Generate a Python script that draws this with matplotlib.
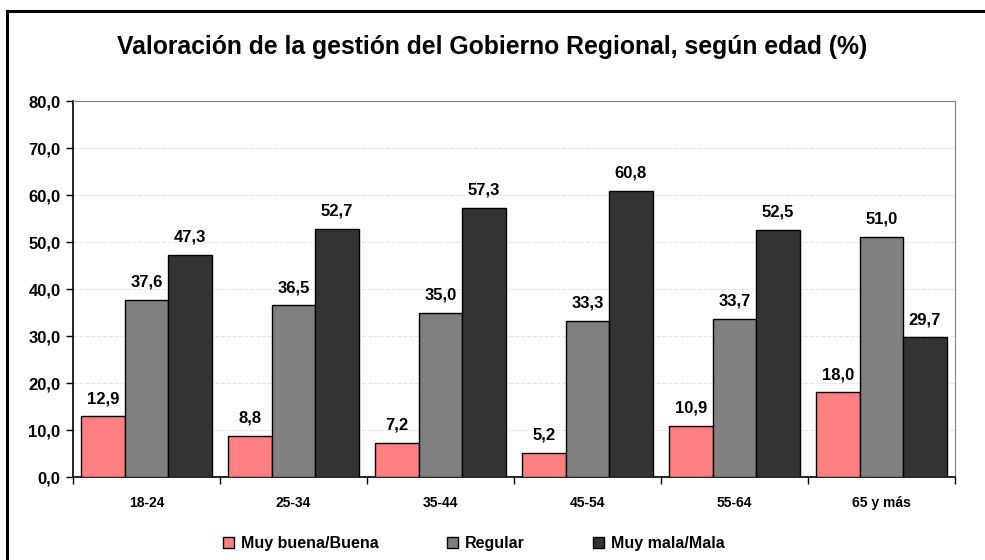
import numpy as np
import matplotlib
import matplotlib.pyplot as plt
from matplotlib.patches import Rectangle

matplotlib.rc('font', family='Liberation Sans', weight='bold')

edades = ["18-24", "25-34", "35-44", "45-54", "55-64", "65 y más"]
muy_buena = [12.9, 8.8, 7.2, 5.2, 10.9, 18.0]
regular = [37.6, 36.5, 35.0, 33.3, 33.7, 51.0]
muy_mala = [47.3, 52.7, 57.3, 60.8, 52.5, 29.7]

series = [("Muy buena/Buena", muy_buena, "#FF8080"),
          ("Regular", regular, "#808080"),
          ("Muy mala/Mala", muy_mala, "#333333")]

fig = plt.figure(figsize=(9.85, 5.6), dpi=100)
ax = fig.add_axes([0.0741, 0.1482, 0.8954, 0.6714])

# outer frame of the chart
fig.patches.append(Rectangle((7/985, -0.1), 1.2, 1 - 11/560 + 0.1, transform=fig.transFigure,
                             fill=False, edgecolor='black', linewidth=2.2))

x = np.arange(len(edades))
w = 0.296
for i, (nombre, vals, color) in enumerate(series):
    pos = x + (i - 1) * w
    ax.bar(pos, vals, w, color=color, edgecolor='black', linewidth=1.0, label=nombre, zorder=3)
    for px, v in zip(pos, vals):
        ax.text(px, v + 2.2, f"{v:.1f}".replace('.', ','), ha='center', va='bottom',
                fontsize=12, fontweight='bold')

ax.set_xlim(-0.5, len(edades) - 0.5)
ax.set_ylim(0, 80)
ax.set_yticks(np.arange(0, 81, 10))
ax.set_yticklabels([f"{t:.1f}".replace('.', ',') for t in np.arange(0, 81, 10)],
                   fontsize=12, fontweight='bold')
ax.set_xticks(x)
ax.set_xticklabels(edades, fontsize=10, fontweight='bold')
ax.set_xticks(np.arange(-0.5, len(edades)), minor=True)
ax.tick_params(axis='x', which='major', length=0, pad=14)
ax.tick_params(axis='x', which='minor', length=5, direction='out', width=1)
ax.tick_params(axis='y', length=5, direction='out', width=1, pad=4)

ax.grid(axis='y', color='#e6e6e6', linestyle='--', linewidth=0.8, zorder=0)
ax.spines['top'].set_color('#808080')
ax.spines['right'].set_color('#808080')
ax.spines['left'].set_linewidth(1.2)
ax.spines['bottom'].set_linewidth(1.2)

fig.text(0.5, 0.916, "Valoración de la gestión del Gobierno Regional, según edad (%)",
         ha='center', va='center', fontsize=17.8, fontweight='bold')

fig.legend(loc='center', bbox_to_anchor=(0.481, 0.03), ncol=3, frameon=False,
           fontsize=11.5, handlelength=0.7, handleheight=0.7, handletextpad=0.4,
           columnspacing=4.3)

plt.savefig("out.png", dpi=100)
